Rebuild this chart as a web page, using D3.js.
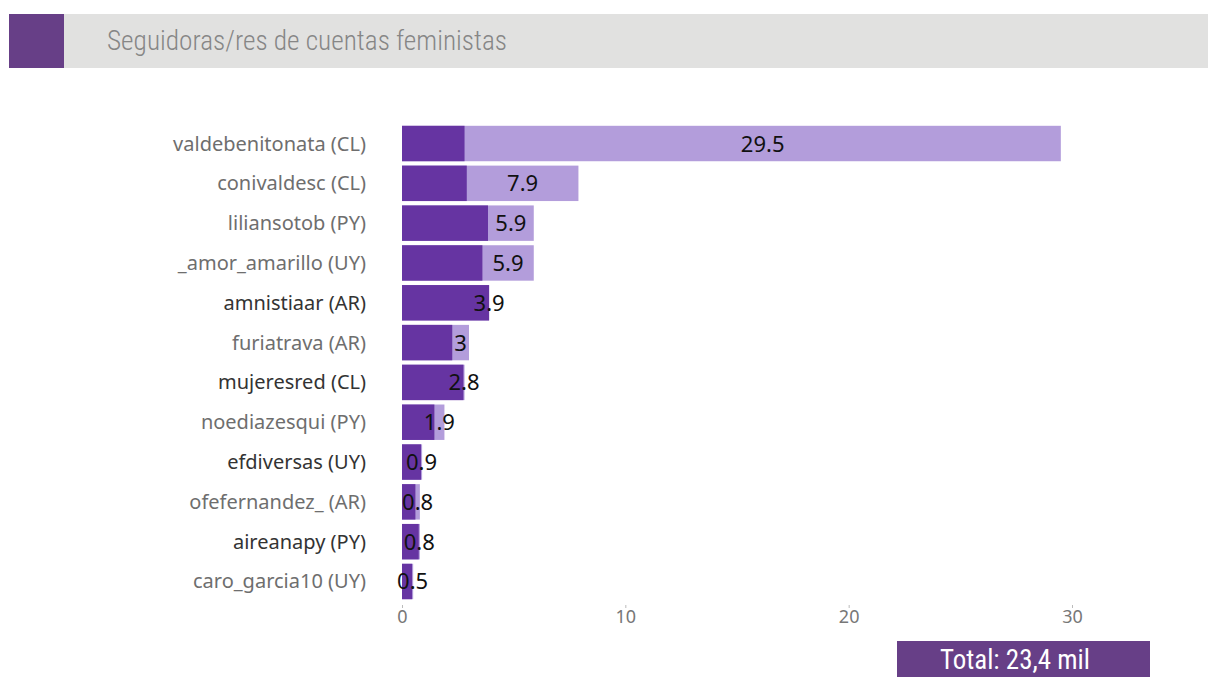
<!DOCTYPE html>
<html>
<head>
<meta charset="utf-8">
<script src="https://cdn.jsdelivr.net/npm/d3@7"></script>
<style>
  body { margin: 0; background: #fff; }
  svg { display: block; }
</style>
</head>
<body>
<div id="chart"></div>
<script>
const accounts = ["valdebenitonata (CL)", "conivaldesc (CL)", "liliansotob (PY)", "_amor_amarillo (UY)",
  "amnistiaar (AR)", "furiatrava (AR)", "mujeresred (CL)", "noediazesqui (PY)", "efdiversas (UY)",
  "ofefernandez_ (AR)", "aireanapy (PY)", "caro_garcia10 (UY)"];
const totals = [29.5, 7.9, 5.9, 5.9, 3.9, 3, 2.8, 1.9, 0.9, 0.8, 0.8, 0.5];
const inner = [2.8, 2.9, 3.85, 3.6, 3.9, 2.25, 2.75, 1.45, 0.85, 0.6, 0.75, 0.45];
const emphasized = ["amnistiaar (AR)", "mujeresred (CL)", "efdiversas (UY)", "aireanapy (PY)"];
const tickValues = [0, 10, 20, 30];

const width = 1208, height = 677;
const svg = d3.select("#chart").append("svg")
  .attr("width", width).attr("height", height);

// header band
svg.append("rect").attr("x", 9).attr("y", 14).attr("width", width - 9).attr("height", 54).attr("fill", "#e1e1e0");
svg.append("rect").attr("x", 9).attr("y", 14).attr("width", 55).attr("height", 54).attr("fill", "#673f87");
svg.append("text")
  .attr("x", 107).attr("y", 50)
  .attr("font-family", "'Roboto Condensed', 'Liberation Sans Narrow', Roboto, sans-serif")
  .attr("font-stretch", "condensed")
  .attr("font-size", 27)
  .attr("font-weight", 300)
  .attr("fill", "#868686")
  .attr("textLength", 400)
  .attr("lengthAdjust", "spacingAndGlyphs")
  .text("Seguidoras/res de cuentas feministas");

const x = d3.scaleLinear().domain([0, 30]).range([402, 1072]);
const y = d3.scaleBand().domain(accounts).range([125, 600]).paddingInner(0.11).paddingOuter(0.02);

const rows = svg.append("g").selectAll("g")
  .data(accounts.map((a, i) => ({ name: a, total: totals[i], inner: inner[i] })))
  .join("g");

rows.append("rect")
  .attr("x", x(0)).attr("y", d => y(d.name))
  .attr("width", d => x(d.total) - x(0)).attr("height", y.bandwidth())
  .attr("fill", "#b39ddb");

rows.append("rect")
  .attr("x", x(0)).attr("y", d => y(d.name))
  .attr("width", d => x(d.inner) - x(0)).attr("height", y.bandwidth())
  .attr("fill", "#6634a2");

rows.append("text")
  .attr("x", d => (x(d.inner) + x(d.total)) / 2)
  .attr("y", d => y(d.name) + y.bandwidth() / 2 + 8)
  .attr("text-anchor", "middle")
  .attr("font-family", "'Noto Sans', sans-serif")
  .attr("font-size", 22)
  .attr("fill", "#111")
  .text(d => d.total);

rows.append("text")
  .attr("x", 366)
  .attr("y", d => y(d.name) + y.bandwidth() / 2 + 7)
  .attr("text-anchor", "end")
  .attr("font-family", "'Noto Sans', sans-serif")
  .attr("font-size", 20)
  .attr("fill", d => emphasized.includes(d.name) ? "#333" : "#6e6e6e")
  .text(d => d.name);

// x axis
const axis = svg.append("g")
  .attr("transform", "translate(0,605)")
  .call(d3.axisBottom(x).tickValues(tickValues).tickSize(3).tickPadding(2));
axis.select(".domain").remove();
axis.selectAll(".tick line").attr("stroke", "#bbb");
axis.selectAll(".tick text")
  .attr("font-family", "'Noto Sans', sans-serif")
  .attr("font-size", 18)
  .attr("fill", "#777");

// total box
svg.append("rect").attr("x", 897).attr("y", 641).attr("width", 253).attr("height", 36).attr("fill", "#673f87");
svg.append("text")
  .attr("x", 1015).attr("y", 669)
  .attr("text-anchor", "middle")
  .attr("font-family", "'Roboto Condensed', 'Liberation Sans Narrow', Roboto, sans-serif")
  .attr("font-stretch", "condensed")
  .attr("font-size", 28)
  .attr("fill", "#fff")
  .attr("textLength", 150)
  .attr("lengthAdjust", "spacingAndGlyphs")
  .text("Total: 23,4 mil");
</script>
</body>
</html>
